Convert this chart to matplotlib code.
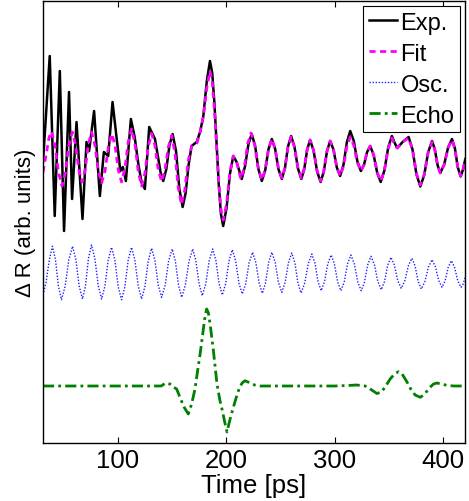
import matplotlib
matplotlib.use("Agg")
import matplotlib.pyplot as plt

# time [ps] and signal values (arb. units)
exp_t = [31.0, 37.2, 41.8, 46.5, 50.4, 55.0, 57.8, 61.9, 67.4, 71.1, 73.5, 78.1,
         83.4, 87.1, 91.1, 95.1, 102.3, 104.6, 107.4, 112.0, 115.5, 119.0, 122.0,
         124.9, 127.0, 128.9, 134.2, 137.0, 139.5, 141.8, 144.7, 147.6, 150.5,
         153.6, 156.7, 159.7, 162.5, 165.2, 168.0, 172.7, 175.8, 178.8, 182.0,
         184.9, 187.0, 189.0, 191.0, 193.0, 195.0, 197.1, 200.2, 203.3, 206.4,
         209.5, 214.2, 217.3, 220.4, 223.4, 226.5, 229.6, 232.7, 235.8, 238.8,
         241.9, 245.0, 248.0, 251.1, 254.0, 256.8, 259.7, 262.8, 266.0, 269.1,
         271.8, 274.5, 277.2, 280.4, 283.7, 286.9, 289.8, 292.8, 295.7, 298.8,
         301.8, 304.9, 308.0, 311.1, 314.2, 317.5, 320.7, 324.0, 326.9, 329.7,
         332.6, 335.8, 339.1, 342.3, 345.7, 349.2, 352.6, 355.0, 357.5, 362.5,
         368.0, 371.6, 375.2, 378.8, 382.4, 386.0, 389.6, 392.1, 394.7, 397.2,
         400.8, 404.4, 408.0, 410.7, 413.3, 416.0, 418.2, 420.3]
exp_y = [-0.5, 10.1, -5.9, 8.6, -7.4, 6.5, -4.2, 3.5, -6.2, 1.5, 0.6, 4.6,
         -3.9, 0.5, 0.1, 5.5, -1.4, -1.0, -2.4, 3.8, 2.0, -0.8, -2.6,
         -3.2, 0.0, 3.0, 1.8, 0.0, -1.6, -2.4, -1.2, 1.2, 2.3,
         0.6, -3.2, -5.0, -3.6, -0.8, 1.1, 1.5, 2.5, 4.1, 7.6,
         9.6, 8.4, 5.4, 1.35, -2.7, -5.7, -6.9, -5.1, -1.7, 0.1,
         -0.5, -2.2, -0.9, 1.3, 2.3, 1.13, -1.23, -2.4, -1.35, 0.75,
         1.8, 0.8, -1.2, -2.2, -1.13, 1.03, 2.1, 1.03, -1.13, -2.2,
         -1.23, 0.73, 1.7, 0.65, -1.45, -2.5, -1.48, 0.58, 1.6, 0.73,
         -1.03, -1.9, -0.78, 1.48, 2.6, 1.6, -0.4, -1.4, -0.78, 0.48,
         1.1, 0.2, -1.6, -2.5, -1.35, 0.95, 2.1, 1.45, 0.9, 1.5,
         2.0, 0.76, -1.71, -2.95, -1.81, 0.46, 1.6, 0.8, -0.8, -1.6,
         -0.75, 0.95, 1.8, 0.86, -1.01, -1.95, -1.25, -0.2]

fit_t = [31.0, 34.0, 36.5, 38.8, 42.0, 45.3, 48.5, 51.7, 54.8, 58.0, 61.0, 64.0,
         67.0, 69.9, 72.8, 75.7, 78.8, 81.9, 85.0, 88.2, 91.3, 94.5, 97.5, 100.4,
         103.4, 106.5, 109.5, 112.6, 115.7, 118.8, 121.9, 125.0, 128.0, 131.1,
         134.2, 137.2, 140.3, 143.4, 146.5, 149.6, 152.6, 155.6, 158.6, 161.7,
         164.9, 168.0, 172.9, 175.8, 178.8, 182.0, 184.9, 187.0, 189.0, 191.0,
         193.0, 195.0, 197.1, 200.2, 203.3, 206.4, 209.5, 213.3, 216.5, 219.6,
         222.8, 226.1, 229.4, 232.7, 235.8, 238.8, 241.9, 245.0, 248.0, 251.1,
         254.0, 256.8, 259.7, 262.8, 266.0, 269.1, 271.8, 274.5, 277.2, 280.4,
         283.7, 286.9, 289.8, 292.8, 295.7, 298.8, 301.8, 304.9, 308.0, 311.1,
         314.2, 317.5, 320.7, 324.0, 326.9, 329.7, 332.6, 335.8, 339.1, 342.3,
         345.7, 349.2, 352.6, 355.0, 357.5, 362.5, 368.0, 371.6, 375.2, 378.8,
         382.4, 386.0, 389.6, 392.1, 394.7, 397.2, 400.8, 404.4, 408.0, 410.7,
         413.3, 416.0, 418.2, 420.3]
fit_y = [-1.5, 0.3, 1.9, 2.55, 1.19, -1.54, -2.9, -1.55, 1.15, 2.5, 1.25, -1.25,
         -2.5, -1.25, 1.25, 2.5, 1.23, -1.33, -2.6, -1.38, 1.08, 2.3, 1.1, -1.3,
         -2.5, -1.18, 1.48, 2.8, 1.38, -1.48, -2.9, -1.59, 1.04, 2.35,
         1.15, -1.25, -2.45, -1.3, 1.0, 2.15, 0.43, -3.03, -4.75, -3.3,
         -0.37, 1.1, 1.4, 2.5, 4.0, 6.9, 8.6, 7.5, 4.8, 1.15,
         -2.5, -5.2, -6.3, -4.7, -1.5, 0.1, -0.5, -2.2, -1.1, 1.3,
         2.4, 1.23, -1.13, -2.3, -1.28, 0.78, 1.8, 0.83, -1.13, -2.1,
         -1.08, 0.98, 2.0, 0.98, -1.08, -2.1, -1.15, 0.75, 1.7, 0.68,
         -1.38, -2.4, -1.4, 0.6, 1.6, 0.73, -1.03, -1.9, -0.93, 1.03,
         2.0, 1.15, -0.55, -1.4, -0.78, 0.48, 1.1, 0.23, -1.53, -2.4,
         -1.33, 0.83, 1.9, 1.3, 0.9, 1.5, 1.9, 0.73, -1.63, -2.8,
         -1.73, 0.43, 1.5, 0.73, -0.83, -1.6, -0.78, 0.88, 1.7, 0.8,
         -1.0, -1.9, -1.2, -0.2]

osc_t = [31.0, 33.9, 36.8, 39.7, 42.5, 45.2, 48.0, 51.4, 54.8, 58.2, 61.3, 64.3,
         67.4, 70.2, 72.9, 75.7, 78.8, 81.9, 85.0, 88.1, 91.1, 94.2, 97.3, 100.3,
         103.4, 106.5, 109.5, 112.6, 115.7, 118.8, 121.9, 125.0, 128.0, 131.1,
         134.2, 137.2, 140.3, 143.6, 146.8, 150.1, 153.0, 155.9, 158.8, 162.2,
         165.6, 169.0, 171.9, 174.9, 177.8, 181.0, 184.2, 187.4, 190.4, 193.3,
         196.3, 199.4, 202.4, 205.5, 208.6, 211.6, 214.7, 217.9, 221.0, 224.2,
         227.2, 230.2, 233.2, 236.1, 239.0, 241.9, 245.0, 248.0, 251.1, 254.2,
         257.2, 260.3, 263.2, 266.0, 268.9, 272.2, 275.5, 278.8, 281.7, 284.5,
         287.4, 290.5, 293.5, 296.6, 299.6, 302.6, 305.6, 308.7, 311.7, 314.8,
         318.0, 321.1, 324.3, 327.3, 330.3, 333.3, 336.5, 339.6, 342.8, 345.8,
         348.7, 351.7, 354.9, 358.0, 361.2, 364.5, 367.8, 371.1, 374.0, 376.8,
         379.7, 383.0, 386.3, 389.6, 392.7, 395.7, 398.8, 401.7, 404.5, 407.4,
         410.4, 413.3, 416.3, 418.3, 420.3]
osc_y = [-2.2, -0.9, 1.3, 2.67, 1.33, -1.33, -2.67, -1.33, 1.33, 2.67, 1.35, -1.28,
         -2.6, -1.25, 1.45, 2.8, 1.45, -1.25, -2.6, -1.3, 1.28, 2.57, 1.26, -1.36,
         -2.67, -1.36, 1.26, 2.57, 1.28, -1.3, -2.6, -1.33, 1.2, 2.47,
         1.24, -1.2, -2.43, -1.22, 1.2, 2.4, 1.2, -1.22, -2.43, -1.22,
         1.2, 2.4, 1.23, -1.1, -2.27, -1.1, 1.23, 2.4, 1.25, -1.05,
         -2.2, -1.07, 1.2, 2.33, 1.22, -1.0, -2.1, -1.06, 1.03, 2.07,
         1.04, -1.0, -2.03, -1.0, 1.04, 2.07, 1.07, -0.93, -1.93, -0.95,
         1.02, 2.0, 1.0, -1.0, -2.0, -1.03, 0.93, 1.9, 0.98, -0.85,
         -1.77, -0.88, 0.91, 1.8, 0.91, -0.88, -1.77, -0.88, 0.91, 1.8,
         0.91, -0.88, -1.77, -0.91, 0.81, 1.67, 0.83, -0.83, -1.67, -0.86,
         0.76, 1.57, 0.8, -0.76, -1.53, -0.78, 0.72, 1.47, 0.7, -0.83,
         -1.6, -0.87, 0.6, 1.33, 0.64, -0.74, -1.43, -0.77, 0.57, 1.23,
         0.57, -0.77, -1.43, -1.1, -0.4]

echo_t = [31.0, 140.0, 144.0, 148.0, 151.0, 154.2, 157.5, 161.0, 164.9, 168.0,
          171.1, 173.5, 175.7, 178.0, 180.0, 181.9, 183.5, 185.5, 188.0, 191.4,
          194.0, 196.0, 198.5, 200.6, 203.0, 206.0, 209.0, 211.7, 214.5, 217.2,
          221.0, 226.0, 231.0, 300.0, 312.0, 320.0, 328.0, 334.0, 338.8, 343.0,
          347.0, 351.0, 355.0, 358.7, 362.0, 366.0, 370.0, 374.0, 378.8, 383.0,
          387.0, 391.0, 394.2, 398.0, 404.0, 410.0, 420.0]
echo_y = [0.0, 0.0, 0.3, 0.2, -0.1, -0.3, -1.2, -2.1, -2.8, -1.8,
          -0.3, 1.5, 3.1, 5.0, 6.7, 7.7, 7.3, 5.8, 3.6, 0.2,
          -1.4, -2.3, -3.6, -4.6, -3.5, -2.3, -1.2, -0.3, 0.3, 0.53,
          0.35, 0.1, 0.0, 0.0, 0.05, 0.1, 0.0, -0.4, -0.75, -0.6,
          0.0, 0.7, 1.2, 1.43, 1.2, 0.5, -0.3, -0.9, -1.13, -0.8,
          -0.2, 0.2, 0.3, 0.2, 0.05, 0.0, 0.0]

# vertical offsets of the stacked traces
top_off = 28.6
osc_off = 17.0
echo_off = 5.7

plt.rcParams['font.family'] = ['Liberation Sans', 'DejaVu Sans']
plt.rcParams['font.size'] = 18.5

fig = plt.figure(figsize=(4.69, 5.02), dpi=100)
ax = fig.add_axes([43 / 469, 1 - 444 / 502, 422 / 469, 442 / 502])

ax.plot(exp_t, [v + top_off for v in exp_y], color='black', lw=1.8, label='Exp.')
ax.plot(fit_t, [v + top_off for v in fit_y], color='#ff00ff', lw=2.0,
        ls=(0, (2.2, 1.6)), label='Fit')
ax.plot(osc_t, [v + osc_off for v in osc_y], color='#2020ff', lw=1.0,
        ls=(0, (1, 1.2)), label='Osc.')
ax.plot(echo_t, [v + echo_off for v in echo_y], color='#007f00', lw=2.0,
        ls=(0, (4, 1.5, 1, 1.5)), label='Echo')

ax.set_xlim(31, 420)
ax.set_ylim(0, 44.2)
ax.set_xticks([100, 200, 300, 400])
ax.set_yticks([])
ax.tick_params(axis='x', direction='in', top=True, length=4.5, width=0.8, pad=3.5)
for s in ax.spines.values():
    s.set_linewidth(1.0)

ax.set_xlabel('Time [ps]', labelpad=0.5)
ax.set_ylabel('Δ R (arb. units)', fontsize=16, labelpad=5)

leg = ax.legend(loc='upper right', fancybox=False, edgecolor='black',
                framealpha=1, handlelength=1.2, handletextpad=0.15,
                labelspacing=0.38, borderpad=0.25, borderaxespad=0.2,
                fontsize=17)
leg.get_frame().set_linewidth(0.8)

fig.savefig('out.png', dpi=100)
